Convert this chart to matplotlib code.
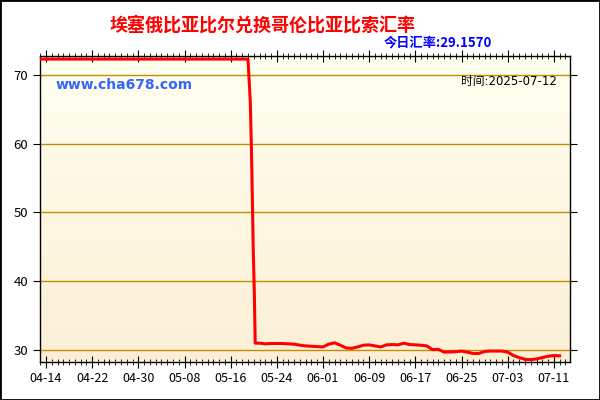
import numpy as np
from matplotlib import pyplot as plt
from matplotlib.patches import Rectangle
from matplotlib.ticker import MultipleLocator

plt.rcParams['font.family'] = ['Noto Sans CJK SC', 'DejaVu Sans']

# days counted from 04-14
days = list(range(-1, 36)) + [35.4, 35.6, 35.75, 35.9, 36.1, 36.25] + list(range(37, 90))
rates = [72.3] * 37 + [66.1, 59.1, 52.4, 45.0, 38.3, 31.0] + [
    31.0, 30.9, 30.95, 30.95, 30.95, 30.9, 30.85, 30.7, 30.6, 30.55,
    30.5, 30.45, 30.85, 31.05, 30.7, 30.3, 30.25, 30.45, 30.7, 30.75,
    30.6, 30.45, 30.75, 30.8, 30.75, 31.0, 30.8, 30.75, 30.7, 30.6,
    30.05, 30.1, 29.7, 29.72, 29.75, 29.85, 29.7, 29.5, 29.5, 29.8,
    29.85, 29.85, 29.85, 29.7, 29.2, 28.9, 28.65, 28.6, 28.7, 28.9,
    29.1, 29.2, 29.157]
tick_days = [0, 8, 16, 24, 32, 40, 48, 56, 64, 72, 80, 88]
tick_labels = ['04-14', '04-22', '04-30', '05-08', '05-16', '05-24',
               '06-01', '06-09', '06-17', '06-25', '07-03', '07-11']

fig = plt.figure(figsize=(6, 4), dpi=100)
ax = fig.add_axes([40/600, 38/400, 530/600, 306/400])

xmin, xmax, ymin, ymax = -1.04, 90.8, 28.26, 72.75
ax.set_xlim(xmin, xmax)
ax.set_ylim(ymin, ymax)

# background gradient
grad = np.linspace(0, 1, 256).reshape(-1, 1)
top = np.array([1.0, 1.0, 0.94])
bot = np.array([0.99, 0.94, 0.84])
img = top + (bot - top) * grad[:, :, None]
ax.imshow(img, extent=[xmin, xmax, ymin, ymax], aspect='auto', origin='upper', zorder=0)

for v in [30, 40, 50, 60, 70]:
    ax.axhline(v, color='#C09000', lw=1, zorder=1)

ax.plot(days, rates, color='red', lw=2.2, zorder=3)

ax.set_xticks(tick_days)
ax.set_xticklabels(tick_labels)
ax.xaxis.set_minor_locator(MultipleLocator(1))
ax.set_yticks([30, 40, 50, 60, 70])
ax.yaxis.set_minor_locator(MultipleLocator(2))
ax.tick_params(axis='x', which='major', direction='inout', length=8, labelsize=9, top=True)
ax.tick_params(axis='x', which='minor', direction='inout', length=5, top=True)
ax.tick_params(axis='y', which='major', direction='out', length=5, labelsize=9.5, right=True)
ax.tick_params(axis='y', which='minor', length=0)
for s in ax.spines.values():
    s.set_linewidth(1)

fig.text(0.437, 0.937, '埃塞俄比亚比尔兑换哥伦比亚比索汇率', color='red', fontsize=13,
         fontweight='bold', ha='center', va='center')
fig.text(0.82, 0.893, '今日汇率:29.1570', color='blue', fontsize=9.5,
         fontweight='bold', ha='right', va='center')
fig.text(0.093, 0.788, 'www.cha678.com', color='#3366FF', fontsize=10,
         fontweight='bold', ha='left', va='center', family=['DejaVu Sans'])
fig.text(0.928, 0.797, '时间:2025-07-12', color='black', fontsize=8.5,
         ha='right', va='center', family=['DejaVu Sans', 'Noto Sans CJK SC'])

fig.patches.append(Rectangle((0, 0), 1, 1, transform=fig.transFigure, fill=False,
                             edgecolor='black', lw=2))

fig.savefig('out.png', dpi=100)
